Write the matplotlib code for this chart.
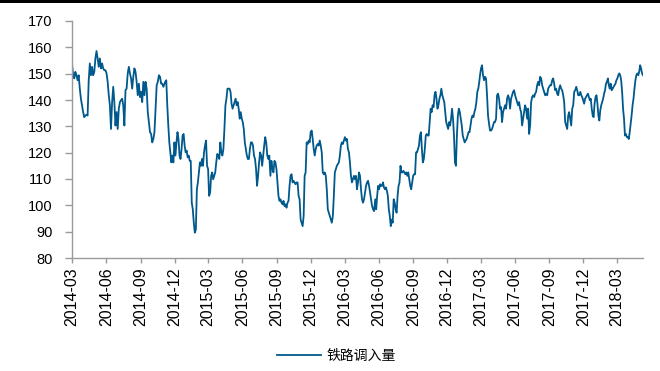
import numpy as np
import pandas as pd
import matplotlib
matplotlib.use("Agg")
import matplotlib.pyplot as plt
import matplotlib.dates as mdates
from matplotlib.patches import Rectangle

# daily railway inflow readings, split into date windows
bounds = [("2014-03-01", "2014-11-01"),
          ("2014-11-06", "2015-08-12"),
          ("2015-08-15", "2016-05-19"),
          ("2016-05-22", "2017-02-25"),
          ("2017-02-27", "2017-11-20"),
          ("2017-11-23", "2018-05-10")]

vals_a = [153.9, 149.4, 148.2, 150.7, 149.4, 147.5, 149.4, 144.3, 140.5, 138.0,
          135.4, 133.5, 134.1, 134.4, 134.1, 147.5, 153.9, 149.4, 152.6, 149.4,
          150.7, 155.8, 158.6, 155.8, 152.6, 155.8, 152.0, 153.9, 152.0, 151.3,
          151.3, 150.1, 146.9, 141.8, 138.0, 129.0, 139.2, 145.0, 139.2, 130.3,
          135.4, 129.0, 136.7, 139.2, 139.9, 140.5, 138.0, 130.3, 143.7, 144.3,
          150.1, 152.6, 150.1, 148.2, 144.3, 148.8, 152.0, 150.7, 146.9, 141.8,
          146.2, 141.1, 143.1, 139.2, 146.9, 141.8, 146.9, 144.3, 135.4, 131.6,
          127.8, 127.1, 123.9, 125.2, 127.8, 136.7, 145.6, 146.9, 149.4, 148.8,
          146.2, 146.2, 145.0]

vals_b = [146.9, 147.5, 138.0, 130.3, 123.9, 120.1, 116.3, 118.9, 116.3, 123.9,
          118.9, 123.9, 127.8, 125.2, 118.9, 117.6, 121.4, 126.5, 127.1, 122.7,
          120.1, 120.8, 118.2, 118.9, 116.9, 116.9, 101.0, 98.5, 93.4, 89.6,
          90.8, 106.1, 108.7, 112.5, 116.3, 115.0, 117.6, 115.0, 120.1, 122.7,
          124.6, 115.0, 113.8, 103.6, 104.8, 111.2, 112.5, 109.9, 111.2, 112.5,
          116.3, 119.5, 118.9, 117.6, 123.9, 120.1, 118.9, 121.4, 129.0, 138.0,
          140.5, 144.3, 144.3, 144.3, 143.1, 138.6, 136.7, 138.0, 139.2, 140.5,
          138.0, 139.2, 136.7, 132.9, 135.4, 132.9, 131.6, 129.0, 123.9, 121.4,
          118.9, 117.6, 117.6, 121.4, 123.9, 123.9, 122.7, 118.9, 117.6, 113.8,
          107.4, 111.2, 116.3, 120.1, 118.9, 115.0, 118.9, 122.7, 125.9, 123.9,
          118.9, 117.6, 118.9]

vals_c = [111.2, 116.9, 113.8, 112.5, 116.9, 116.3, 113.8, 108.7, 103.6, 101.7,
          102.3, 101.0, 100.4, 101.7, 99.7, 100.4, 99.1, 101.0, 101.7, 107.4,
          111.2, 111.8, 108.7, 109.3, 108.7, 108.0, 108.7, 108.7, 103.6, 102.3,
          94.6, 93.4, 92.1, 95.9, 111.2, 112.5, 123.9, 123.3, 124.6, 123.9,
          127.8, 128.4, 125.2, 121.4, 118.9, 121.4, 122.7, 123.3, 122.7, 124.6,
          122.7, 120.1, 112.5, 111.8, 112.5, 111.2, 106.1, 98.5, 97.2, 95.9,
          94.6, 93.4, 95.9, 103.6, 112.5, 113.8, 115.0, 115.7, 116.3, 118.9,
          122.7, 123.9, 123.3, 124.6, 125.9, 124.6, 125.2, 121.4, 120.1, 116.3,
          111.2, 108.7, 109.9, 111.2, 109.9, 111.2, 106.1, 108.7, 112.5, 111.2,
          106.1, 102.3, 101.0, 102.3, 104.8, 107.4, 108.7, 109.3, 107.4, 104.8,
          102.3, 99.7, 98.5, 97.8]

vals_d = [102.3, 98.5, 103.6, 107.4, 106.1, 108.0, 107.4, 107.4, 108.7, 106.8,
          106.1, 106.8, 105.5, 103.6, 98.5, 95.9, 92.1, 94.6, 93.4, 102.3,
          101.0, 98.5, 97.2, 103.6, 107.4, 108.7, 115.0, 112.5, 112.5, 113.1,
          112.5, 111.8, 112.5, 111.2, 112.5, 109.9, 107.4, 106.1, 108.7, 111.2,
          111.8, 111.8, 120.1, 120.1, 121.4, 122.7, 126.5, 127.8, 121.4, 116.3,
          117.6, 121.4, 126.5, 127.1, 126.5, 126.5, 131.6, 136.7, 135.4, 138.0,
          137.3, 141.8, 143.1, 140.5, 136.7, 138.0, 140.5, 141.8, 144.3, 141.8,
          140.5, 139.2, 135.4, 131.6, 130.3, 129.0, 131.6, 130.3, 132.9, 136.7,
          132.9, 126.5, 116.3, 115.0, 126.5, 134.1, 136.7, 135.4, 132.9, 130.3,
          126.5, 125.2, 123.9, 124.6, 125.2, 126.5, 127.8, 127.8, 130.3, 132.9,
          134.1, 133.5, 135.4, 136.7, 139.2, 143.1, 144.3, 146.9]

vals_e = [149.4, 152.0, 153.2, 149.4, 147.5, 148.8, 148.2, 141.8, 134.1, 131.0,
          128.4, 128.4, 129.0, 130.3, 131.6, 131.6, 132.9, 141.8, 142.4, 140.5,
          136.7, 137.3, 131.6, 135.4, 136.7, 138.0, 136.7, 140.5, 141.8, 140.5,
          136.7, 140.5, 141.8, 143.1, 143.7, 141.8, 140.5, 139.2, 138.0, 139.2,
          136.7, 135.4, 130.3, 132.9, 135.4, 138.0, 136.7, 132.9, 136.7, 127.1,
          130.3, 139.2, 141.1, 141.8, 141.1, 142.4, 143.1, 145.6, 146.9, 145.6,
          148.8, 148.2, 145.6, 144.3, 143.1, 141.8, 142.4, 141.8, 144.3, 145.0,
          145.6, 145.6, 147.5, 148.2, 146.2, 143.7, 144.3, 142.4, 141.8, 144.3,
          145.6, 144.3, 143.7, 141.8, 139.2, 131.6, 130.3, 129.0, 134.1, 135.4,
          132.9, 130.3, 136.7, 138.0, 143.1, 143.7, 145.0, 143.7, 141.8, 141.8]

vals_f = [143.1, 141.8, 141.1, 139.9, 138.6, 140.5, 141.1, 141.8, 142.4, 141.1,
          139.9, 140.5, 136.7, 134.1, 133.5, 138.6, 141.1, 141.8, 138.6, 134.1,
          132.2, 136.1, 138.0, 139.2, 140.5, 142.4, 143.7, 146.2, 146.9, 148.2,
          145.6, 144.3, 146.2, 143.7, 144.3, 145.0, 145.6, 146.2, 147.5, 148.2,
          149.4, 150.1, 149.4, 147.5, 143.1, 136.7, 132.9, 126.5, 127.1, 125.9,
          125.9, 125.2, 127.8, 131.0, 134.1, 138.0, 140.5, 144.3, 147.5, 149.4,
          150.1, 149.4, 150.7, 153.2, 152.0, 150.1, 149.4]

series_name = "铁路调入量"
y_ticks = np.arange(80, 171, 10)
x_ticks = pd.date_range("2014-03-01", "2018-03-01", freq="3MS")

parts = [vals_a, vals_b, vals_c, vals_d, vals_e, vals_f]
dates = []
values = []
for (start, end), v in zip(bounds, parts):
    dates.extend(pd.date_range(start, end, periods=len(v)))
    values.extend(v)
rail = pd.Series(values, index=pd.DatetimeIndex(dates))

plt.rcParams["font.family"] = ["Liberation Sans", "Noto Sans CJK SC", "DejaVu Sans"]

fig = plt.figure(figsize=(6.6, 3.71), dpi=100)
ax = fig.add_axes([72 / 660, 1 - 258 / 371, 571 / 660, 237 / 371])

ax.plot(rail.index, rail.values, color="#00598C", lw=1.3, label=series_name)

ax.set_ylim(80, 170)
ax.set_yticks(y_ticks)
ax.set_xlim(pd.Timestamp("2014-03-01"), pd.Timestamp("2018-05-10"))
ax.set_xticks(x_ticks)
ax.xaxis.set_major_formatter(mdates.DateFormatter("%Y-%m"))
for lbl in ax.get_xticklabels():
    lbl.set_rotation(90)

for side in ["top", "right"]:
    ax.spines[side].set_visible(False)
for side in ["left", "bottom"]:
    ax.spines[side].set_color("#9a9a9a")
    ax.spines[side].set_linewidth(1.0)
ax.tick_params(axis="y", length=5, width=1, color="#9a9a9a", pad=9, labelsize=10.5)
ax.tick_params(axis="x", length=3.6, width=1, color="#9a9a9a", pad=3.5, labelsize=11.5)

leg = fig.legend(loc="center", bbox_to_anchor=(0.51, 0.041), frameon=False,
                 handlelength=3.2, handletextpad=0.4,
                 prop={"family": "Noto Sans CJK SC", "size": 10})

# black strip along the top edge
fig.add_artist(Rectangle((0, 1 - 3 / 371), 1, 3 / 371, transform=fig.transFigure,
                         color="black", lw=0))

fig.savefig("out.png", dpi=100)
